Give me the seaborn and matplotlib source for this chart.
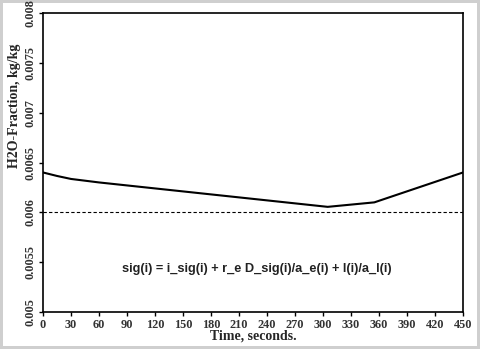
import matplotlib
matplotlib.use("Agg")
import matplotlib.pyplot as plt
import seaborn as sns
import pandas as pd

sns.set_style("white")

# values
time_s = [0, 15, 30, 60, 90, 120, 150, 180, 210, 240, 270, 305, 355, 450]
h2o_fraction = [0.0064, 0.006365, 0.006335, 0.0063, 0.00627, 0.00624, 0.00621,
                0.00618, 0.00615, 0.00612, 0.00609, 0.006055, 0.0061, 0.0064]
baseline = 0.006
x_ticks = list(range(0, 451, 30))
y_ticks = [0.005, 0.0055, 0.006, 0.0065, 0.007, 0.0075, 0.008]
y_ticklabels = ["0.005", "0.0055", "0.006", "0.0065", "0.007", "0.0075", "0.008"]
equation = "sig(i) = i_sig(i) + r_e D_sig(i)/a_e(i) + l(i)/a_l(i)"

df = pd.DataFrame({"t": time_s, "y": h2o_fraction})

fig = plt.figure(figsize=(4.8, 3.49), dpi=100)
fig.patch.set_edgecolor("#cfcfcf")
fig.patch.set_linewidth(3)
ax = fig.add_axes([43 / 480, 1 - 312 / 349, 420 / 480, 299 / 349])

sns.lineplot(data=df, x="t", y="y", ax=ax, color="black", linewidth=1.5)
ax.axhline(baseline, color="black", linestyle=(0, (3, 2)), linewidth=0.8)

ax.set_xlim(0, 450)
ax.set_ylim(0.005, 0.008)
ax.set_xticks(x_ticks)
ax.set_yticks(y_ticks)
ax.set_yticklabels(y_ticklabels, rotation=90, va="center")
for lab in ax.get_xticklabels() + ax.get_yticklabels():
    lab.set_family("Liberation Serif")
    lab.set_fontweight("bold")
    lab.set_fontsize(8.8)
    lab.set_color("#333333")
ax.tick_params(direction="out", length=3, width=1, color="black", pad=2, bottom=True, left=True)
for s in ax.spines.values():
    s.set_color("black")
    s.set_linewidth(1.2)

ax.set_xlabel("Time, seconds.", family="Liberation Serif", fontweight="bold",
              fontsize=10, labelpad=-1)
ax.set_ylabel("H2O-Fraction, kg/kg", family="Liberation Serif", fontweight="bold",
              fontsize=10)
ax.yaxis.set_label_coords(-0.053, 0.69)

ax.text(229, 0.005432, equation, family="Liberation Sans", fontweight="bold",
        fontsize=9.2, ha="center", va="center", color="#222222")

fig.savefig("out.png", dpi=100)
